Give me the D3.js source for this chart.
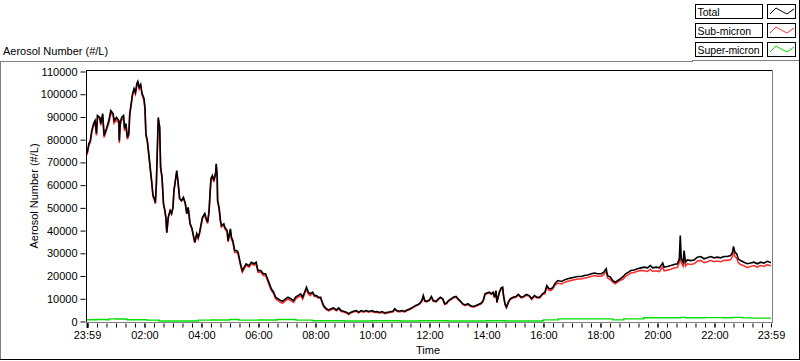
<!DOCTYPE html>
<html>
<head>
<meta charset="utf-8">
<script src="https://cdn.jsdelivr.net/npm/d3@7/dist/d3.min.js"></script>
<style>
  html, body { margin: 0; padding: 0; background: #fff; }
  svg { display: block; }
  text { font-family: "Liberation Sans", Arial, sans-serif; font-size: 11px; fill: #000; }
</style>
</head>
<body>
<svg id="chart" width="800" height="361"></svg>
<script>
// ---- DATA (minutes elapsed since 23:59) ----
const timeMin = [0,4,7,10,14,17,20,22,27,29,33,36,41,46,50,55,57,62,67,68,70,73,77,79,82,85,88,90,93,96,99,102,105,107,110,113,116,120,122,124,127,130,133,136,139,141,144,146,148,150,153,155,158,161,164,166,168,171,175,178,181,183,186,189,192,195,199,203,207,210,213,217,221,224,227,231,234,237,239,243,248,251,254,257,259,261,264,267,271,272,274,275,278,281,283,288,290,295,297,302,304,307,311,315,318,323,327,331,335,341,346,352,356,360,366,371,376,380,384,388,393,397,402,408,412,418,423,429,435,439,444,450,454,458,462,466,470,475,479,483,487,492,494,498,504,509,514,519,525,530,535,540,546,551,556,561,567,572,577,582,588,593,600,605,610,616,621,627,632,638,644,648,652,658,663,669,674,680,686,691,697,701,705,708,711,715,721,725,729,735,740,744,749,753,757,761,767,771,777,781,785,791,796,802,807,813,819,824,830,834,838,842,847,851,855,858,861,863,868,872,875,877,880,883,887,891,897,903,908,914,919,925,931,936,942,947,953,959,964,968,973,977,981,985,991,999,1005,1012,1020,1026,1033,1041,1047,1054,1062,1068,1075,1083,1088,1093,1096,1102,1107,1112,1117,1123,1129,1134,1140,1145,1152,1159,1166,1173,1180,1186,1191,1198,1205,1212,1215,1222,1229,1236,1243,1247,1249,1251,1255,1257,1260,1264,1271,1278,1285,1292,1299,1306,1313,1320,1327,1334,1341,1348,1355,1359,1361,1364,1368,1371,1376,1383,1390,1397,1404,1411,1418,1425,1432,1439,1440];

const total = [74000,78300,79600,84000,87100,88400,82700,90600,89800,87100,91500,81800,84900,88400,92800,91500,88400,89800,88400,79600,87600,89800,90600,84900,87100,81000,82700,91500,95900,100300,102500,100800,104700,105600,103000,104300,100300,98100,94200,82700,79600,73900,67800,62000,55400,54600,52400,60700,75200,89800,85400,67800,63400,51900,48800,45800,39200,45800,48800,47500,50200,57600,62000,66400,60700,54100,53200,54600,51900,47500,50200,43100,40900,37800,34800,38700,37000,39200,41400,45800,47500,45300,43700,48800,56300,62900,64200,62000,65700,69400,64200,53200,50300,44400,42200,43000,41500,40000,35600,40800,37100,35600,31200,31200,30500,25500,22400,23900,25400,24600,26100,25400,26100,22400,22400,21000,21000,18800,16600,14400,12900,10700,10000,9200,8900,10000,10700,10000,9200,10700,11400,12200,10700,12900,15100,12900,12200,12900,11400,11400,10700,10700,9200,7000,5600,5100,5600,6000,5100,6000,4800,4500,4100,3400,4100,4500,4800,4100,4800,4400,4800,4400,4800,4300,4400,4000,4400,3800,4000,4300,4500,5600,4800,4500,4800,4500,5100,5600,6300,7000,7500,8100,9200,11400,9200,8900,9500,11000,9200,8900,10000,10700,10000,7800,8100,9200,10000,10700,11000,10000,9200,7800,7300,7800,7000,6600,7000,7500,8100,9200,12200,12500,12900,12200,12900,10700,13600,8500,12900,14800,15100,11400,7800,6300,8500,10000,10700,11000,11900,10700,11000,11900,11400,10000,11400,10700,10700,12200,12900,15800,14400,14400,15100,16600,18000,17600,18300,18800,19200,19500,19800,19800,20200,20500,21000,21300,21000,21000,21700,23200,20200,19500,18000,17300,18000,18800,19800,21000,21700,22400,22700,23200,23600,23900,23600,24600,23600,23900,23600,25700,23900,24200,24600,25100,25400,27600,37800,27600,26100,31200,26100,27100,26800,27100,28300,28600,27600,28000,28600,28000,28300,28000,28600,28600,29000,30500,33000,30500,29700,27600,26800,26100,25400,25700,26100,25400,26100,25700,26500,26000,26000];

const subMicron = [73200,77500,78800,83200,86300,87600,81900,89800,89000,86300,90700,81000,84100,87300,91700,90400,87300,88700,87300,78500,86500,88700,89500,83800,86000,80200,81900,90700,95100,99500,101700,100000,103900,104800,102200,103500,99500,97300,93400,81900,79000,73300,67200,61400,54800,54000,51800,60100,74600,89200,85200,67600,63200,51700,48600,45600,39000,45600,48600,47300,50000,57400,61800,66200,60500,53900,53000,54400,51700,47300,50000,42900,40700,37600,34600,38500,36400,38600,40800,45200,46900,44700,43100,48200,55700,62300,63600,61400,65100,68800,63600,52600,49700,43800,41600,42400,40900,39400,35000,40100,36300,34800,30400,30400,29700,24800,21700,23200,24700,23900,25400,24700,25400,21700,21700,20300,20300,18100,15900,13700,12200,10000,9200,8400,8100,9200,9900,9200,8400,9900,10600,11400,9900,12100,14300,12100,11400,12500,11000,11000,10300,10300,8800,6600,5200,4700,5200,5600,4700,5600,4400,4200,3800,3100,3800,4200,4500,3800,4500,4100,4500,4100,4500,4000,4100,3700,4100,3500,3700,4000,4200,5300,4500,4200,4500,4200,4800,5300,6000,6700,7200,7800,8900,11100,8900,8600,9200,10700,8900,8600,9700,10400,9700,7500,7800,8900,9700,10400,10700,9700,8900,7500,7000,7500,6700,6300,6700,7200,7800,8900,11900,12200,12600,11900,12600,10400,13300,8200,12600,14500,14800,11100,7500,6000,8200,9700,10400,10700,11600,10400,10700,11600,11100,9700,11100,10400,10400,11900,12200,15100,13700,13700,14400,15900,16900,16500,17200,17700,18100,18400,18700,18700,19100,19400,19900,20200,19900,19900,20600,22100,19100,18400,17300,16600,17300,18100,18700,19900,20600,21300,21600,22100,22500,22300,22000,23000,22000,22300,22000,24100,22300,22600,23000,23500,23800,26000,30000,26000,24400,28000,24400,25400,25100,25400,26600,26900,25900,26300,26900,26300,26600,26300,26900,26900,27200,28700,31200,28700,27900,25900,25100,24500,23800,24200,24600,23900,24600,24200,25000,24500,24500];

const superTime = [0,20,40,46,60,82,84,110,124,126,150,152,180,232,234,260,300,320,360,400,440,473,475,540,542,600,660,700,760,840,880,959,961,990,992,1040,1100,1107,1128,1130,1170,1172,1220,1250,1260,1300,1340,1360,1380,1400,1440];
const superMicron = [800,850,800,1150,1100,1150,800,800,800,600,600,200,200,200,600,650,900,600,650,900,600,600,350,350,250,300,250,300,250,300,250,300,700,700,1150,1150,1150,700,700,1150,1150,1650,1650,1800,1650,1700,1650,1800,1600,1500,1500];

const yTicks = [0,10000,20000,30000,40000,50000,60000,70000,80000,90000,100000,110000];
const xTickLabels = ["23:59","02:00","04:00","06:00","08:00","10:00","12:00","14:00","16:00","18:00","20:00","22:00","23:59"];
const seriesNames = ["Total","Sub-micron","Super-micron"];
const seriesColors = ["#000000","#ff3030","#00e000"];

// ---- LAYOUT ----
const svg = d3.select("#chart");
const x = d3.scaleLinear().domain([0, 1440]).range([87, 771]);
const y = d3.scaleLinear().domain([0, 110000]).range([321.5, 71.5]);

// outer panel frame
svg.append("line").attr("x1",0).attr("x2",692).attr("y1",61.5).attr("y2",61.5).attr("stroke","#808080");
svg.append("line").attr("x1",692).attr("x2",799).attr("y1",60.5).attr("y2",60.5).attr("stroke","#808080");
svg.append("line").attr("x1",692.5).attr("x2",692.5).attr("y1",60).attr("y2",62).attr("stroke","#808080");
svg.append("line").attr("x1",0.5).attr("x2",0.5).attr("y1",61).attr("y2",360).attr("stroke","#808080");
svg.append("line").attr("x1",0).attr("x2",800).attr("y1",359.5).attr("y2",359.5).attr("stroke","#000");
svg.append("line").attr("x1",799.5).attr("x2",799.5).attr("y1",0).attr("y2",360).attr("stroke","#000");

// title
svg.append("text").attr("x",3).attr("y",55).text("Aerosol Number (#/L)");

// legend
seriesNames.forEach((name, i) => {
  const ly = 4 + i * 19;
  svg.append("rect").attr("x",695.5).attr("y",ly+0.5).attr("width",67).attr("height",14)
    .attr("fill","#fff").attr("stroke","#000");
  svg.append("text").attr("x",697.5).attr("y",ly+12).style("font-size","10.5px")
    .attr("textLength", name === "Super-micron" ? 62 : null).text(name);
  svg.append("rect").attr("x",767.5).attr("y",ly+0.5).attr("width",28).attr("height",14)
    .attr("fill","#fff").attr("stroke","#000");
  svg.append("polyline")
    .attr("points", [[770,ly+10],[776,ly+4],[783,ly+8],[787,ly+10],[794,ly+5]].map(p=>p.join(",")).join(" "))
    .attr("fill","none").attr("stroke",seriesColors[i]).attr("stroke-width",1);
});

// plot frame
svg.append("line").attr("x1",86).attr("x2",773).attr("y1",70.5).attr("y2",70.5).attr("stroke","#000");
svg.append("line").attr("x1",86.5).attr("x2",86.5).attr("y1",70).attr("y2",323).attr("stroke","#000");
svg.append("line").attr("x1",772.5).attr("x2",772.5).attr("y1",70).attr("y2",323).attr("stroke","#808080");
svg.append("line").attr("x1",86).attr("x2",773).attr("y1",322.5).attr("y2",322.5).attr("stroke","#808080");

// clip
svg.append("clipPath").attr("id","clip").append("rect")
  .attr("x",87).attr("y",71).attr("width",685).attr("height",251);

const g = svg.append("g").attr("clip-path","url(#clip)");
const line = d3.line().x(d => x(d[0])).y(d => y(d[1]));

g.append("path").datum(superTime.map((t,i)=>[t, superMicron[i]]))
  .attr("d", d3.line().x(d=>x(d[0])).y(d=>y(d[1])).curve(d3.curveStepAfter))
  .attr("fill","none").attr("stroke",seriesColors[2]).attr("stroke-width",1.4);
g.append("path").datum(timeMin.map((t,i)=>[t, subMicron[i]]))
  .attr("d", line).attr("fill","none").attr("stroke",seriesColors[1]).attr("stroke-width",1.6);
g.append("path").datum(timeMin.map((t,i)=>[t, total[i]]))
  .attr("d", line).attr("fill","none").attr("stroke",seriesColors[0]).attr("stroke-width",1.6);

// y axis
const yAxis = d3.axisLeft(y).tickValues(yTicks).tickSize(5).tickPadding(3).tickFormat(d3.format("d"));
const ya = svg.append("g").attr("transform","translate(85.5,0)").call(yAxis);
ya.select(".domain").remove();
ya.selectAll("text").style("font-family","Liberation Sans, Arial, sans-serif").style("font-size","11px").attr("fill","#000");
ya.selectAll("line").attr("stroke","#000");

svg.append("text").attr("transform","translate(38,196) rotate(-90)").attr("text-anchor","middle")
  .text("Aerosol Number (#/L)");

// x axis
const toElapsed = (s, i) => {
  if (i === xTickLabels.length - 1) return 1440;
  const [h, m] = s.split(":").map(Number);
  return ((h * 60 + m + 1) % 1440);
};
const majorPos = xTickLabels.map(toElapsed);
const minorPos = d3.range(1, 1440, 20);

const xMinor = d3.axisBottom(x).tickValues(minorPos).tickSize(4).tickFormat("");
const xm = svg.append("g").attr("transform","translate(0,323.5)").call(xMinor);
xm.select(".domain").remove();
xm.selectAll("line").attr("stroke","#000");

const xAxis = d3.axisBottom(x).tickValues(majorPos).tickSize(4).tickPadding(4)
  .tickFormat((d, i) => xTickLabels[i]);
const xa = svg.append("g").attr("transform","translate(0,323.5)").call(xAxis);
xa.select(".domain").remove();
xa.selectAll("text").style("font-family","Liberation Sans, Arial, sans-serif").style("font-size","11px").attr("fill","#000");
xa.selectAll("line").attr("stroke","#000");
svg.append("rect").attr("x",x(0)-0.5).attr("y",323).attr("width",2).attr("height",5).attr("fill","#000");

svg.append("text").attr("x",428).attr("y",354).attr("text-anchor","middle").text("Time");
</script>
</body>
</html>
